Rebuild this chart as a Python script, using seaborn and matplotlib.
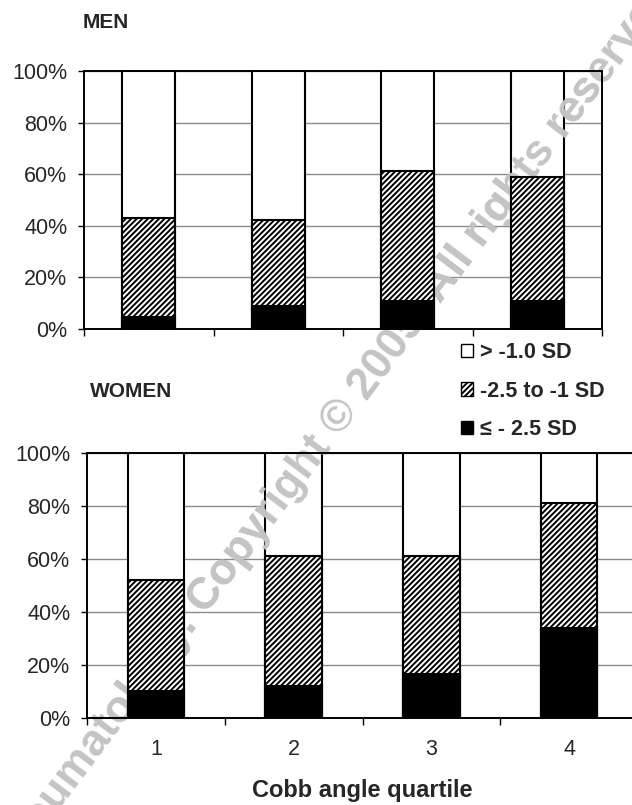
import matplotlib
matplotlib.use("Agg")
import matplotlib.pyplot as plt
import matplotlib.patches as mpatches
import numpy as np
import seaborn as sns
from matplotlib.ticker import PercentFormatter

# Cobb angle quartiles (x categories)
quartiles = ["1", "2", "3", "4"]

# percent of subjects per BMD class
men_osteoporosis = [4.5, 8.8, 10.7, 11.0]      # <= -2.5 SD
men_osteopenia = [38.5, 33.5, 50.7, 48.1]      # -2.5 to -1 SD
men_normal = [57.0, 57.7, 38.6, 40.9]          # > -1.0 SD

women_osteoporosis = [10.2, 12.2, 16.6, 34.0]
women_osteopenia = [41.8, 48.9, 44.7, 47.3]
women_normal = [48.0, 38.9, 38.7, 18.7]

legend_labels = ["> -1.0 SD", "-2.5 to -1 SD", "\u2264 - 2.5 SD"]
watermark = "Rheumatology. Copyright \u00a9 2005. All rights reserved."

HATCH = "//////"
W, H = 632, 805


def add_watermark(target, zorder, clip_ax=None):
    kw = dict(rotation=53, rotation_mode="anchor", ha="center", va="center",
              fontsize=32, fontweight="bold", color="#c4c4c4", zorder=zorder)
    pos = (336 / W, 1 - 424 / H)
    if clip_ax is None:
        target.text(*pos, watermark, **kw)
    else:
        clip_ax.text(*pos, watermark, transform=fig.transFigure, clip_on=True, **kw)


def draw_panel(ax, normal, osteopenia, osteoporosis, show_labels):
    low = np.array(osteoporosis)
    mid = low + np.array(osteopenia)
    top = mid + np.array(normal)

    ax.set_facecolor("none")
    n0 = len(ax.patches)
    sns.barplot(x=quartiles, y=top, ax=ax, color="white", width=0.41,
                edgecolor="black", linewidth=1.5, errorbar=None, saturation=1)
    for p in ax.patches[n0:]:
        p.set_facecolor("white")
        p.set_zorder(1)

    add_watermark(None, 1.5, clip_ax=ax)

    n1 = len(ax.patches)
    sns.barplot(x=quartiles, y=mid, ax=ax, color="white", width=0.41,
                edgecolor="black", linewidth=1.5, errorbar=None, saturation=1)
    for p in ax.patches[n1:]:
        p.set_facecolor("white")
        p.set_hatch(HATCH)
        p.set_zorder(2)

    n2 = len(ax.patches)
    sns.barplot(x=quartiles, y=low, ax=ax, color="black", width=0.41,
                edgecolor="black", linewidth=1.5, errorbar=None, saturation=1)
    for p in ax.patches[n2:]:
        p.set_zorder(3)

    ax.set_xlim(-0.5, 3.5)
    ax.set_ylim(0, 100)
    ax.set_yticks(range(0, 101, 20))
    ax.yaxis.set_major_formatter(PercentFormatter(decimals=0))
    ax.yaxis.grid(True, color="#8a8a8a", linewidth=1.0)
    ax.xaxis.grid(False)
    ax.set_axisbelow(True)
    ax.set_xticks(np.arange(-0.5, 4, 1), minor=True)
    ax.tick_params(axis="x", which="major", length=0, labelsize=15.5, pad=15,
                   labelbottom=show_labels)
    ax.tick_params(axis="x", which="minor", length=5, width=1.0, color="black",
                   direction="out", bottom=True)
    ax.tick_params(axis="y", length=4, width=1.0, color="black", direction="out",
                   labelsize=15.5, pad=8, left=True)
    for s in ax.spines.values():
        s.set_visible(True)
        s.set_color("black")
        s.set_linewidth(1.4)
    ax.set_xlabel("")
    ax.set_ylabel("")


sns.set_style("white")
plt.rcParams["font.family"] = ["Liberation Sans", "DejaVu Sans"]
plt.rcParams["hatch.linewidth"] = 1.4

fig = plt.figure(figsize=(W / 100, H / 100), dpi=100)
fig.patch.set_facecolor("white")

ax_men = fig.add_axes([84 / W, 1 - 329 / H, 518 / W, 258 / H])
ax_women = fig.add_axes([87 / W, 1 - 718 / H, 551 / W, 265 / H])

# watermark behind everything; the copies inside the axes sit over the white bar parts
add_watermark(fig, -1)

draw_panel(ax_men, men_normal, men_osteopenia, men_osteoporosis, False)
draw_panel(ax_women, women_normal, women_osteopenia, women_osteoporosis, True)

ax_women.set_xlabel("Cobb angle quartile", fontsize=17, fontweight="bold", labelpad=14)

fig.text(83 / W, 1 - 28 / H, "MEN", fontsize=15, fontweight="bold", va="baseline")
fig.text(90 / W, 1 - 397 / H, "WOMEN", fontsize=15, fontweight="bold", va="baseline")

handles = [
    mpatches.Patch(facecolor="white", edgecolor="black", linewidth=1.0),
    mpatches.Patch(facecolor="white", edgecolor="black", linewidth=1.0, hatch=HATCH),
    mpatches.Patch(facecolor="black", edgecolor="black", linewidth=1.0),
]
leg = fig.legend(handles, legend_labels, loc="upper left",
                 bbox_to_anchor=(461 / W, 1 - 342 / H), frameon=False,
                 prop={"size": 15.5, "weight": "bold"}, handlelength=0.56,
                 handleheight=0.56, handletextpad=0.3, labelspacing=0.82,
                 borderpad=0, borderaxespad=0)

fig.savefig("out.png", dpi=100, facecolor="white")
